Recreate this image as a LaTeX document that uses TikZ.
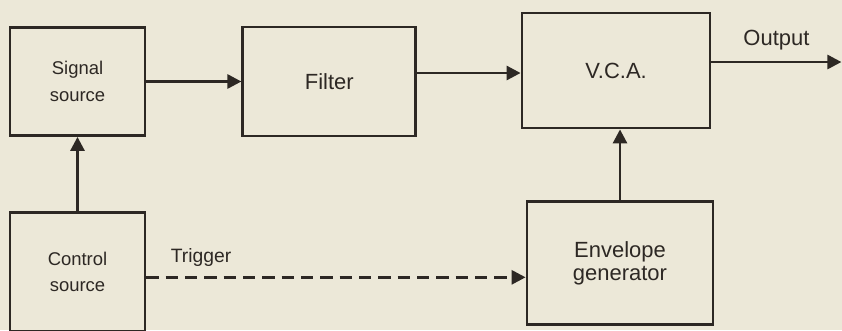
\documentclass[tikz,border=0pt]{standalone}
\usepackage{fontspec}
\setmainfont{Liberation Sans}
\usepackage{tikz}
\usetikzlibrary{positioning,arrows.meta}
\definecolor{paper}{RGB}{236,232,216}
\definecolor{ink}{RGB}{45,40,36}

\begin{document}
\begin{tikzpicture}[
node distance=1.5cm,
box/.style={draw=ink, line width=1.6pt, align=center, inner sep=0pt, text=ink},
big/.style={box, font=\fontsize{12.5}{13}\selectfont},
small/.style={box, font=\fontsize{10.5}{15}\selectfont},
tag/.style={inner sep=0pt, text=ink, font=\fontsize{12.5}{12.5}\selectfont},
arrow/.style={-{Triangle[length=2.8mm, width=2.8mm]}, line width=1.6pt, ink}
]
\fill[paper] (0,0) rectangle (16.84,-6.6);
\useasboundingbox (0,0) rectangle (16.84,-6.6);
\node[small, minimum width=2.7cm, minimum height=2.16cm] (signal) at (1.55,-1.63) {Signal\\source};
\node[big, minimum width=3.46cm, minimum height=2.18cm, right=1.9cm of signal] (filter) {Filter};
\node[big, minimum width=3.76cm, minimum height=2.3cm] (vca) at (12.32,-1.41) {V.C.A.};
\node[small, minimum width=2.7cm, minimum height=2.38cm, below=1.48cm of signal] (control) {Control\\source};
\node[big, minimum width=3.72cm, minimum height=2.46cm, below=1.42cm of vca, xshift=0.08cm] (env) {Envelope\\generator};
\coordinate[right=2.6cm of vca.east, yshift=0.17cm] (out);
\draw[arrow] (signal) -- (filter);
\draw[arrow] ([yshift=0.17cm]filter.east) -- ([yshift=0.17cm]filter.east -| vca.west);
\draw[arrow] ([yshift=0.17cm]vca.east) -- node[tag, above=0.22cm] {Output} (out);
\draw[arrow] (control.north) -- (control.north |- signal.south);
\draw[arrow] (env.north) -- (env.north |- vca.south);
\draw[arrow, dash pattern=on 7pt off 4pt] ([yshift=-0.11cm]control.east) node[tag, anchor=south west, xshift=0.46cm, yshift=0.18cm, font=\fontsize{11}{11}\selectfont] {Trigger} -- ([yshift=-0.11cm]control.east -| env.west);
\end{tikzpicture}
\end{document}
